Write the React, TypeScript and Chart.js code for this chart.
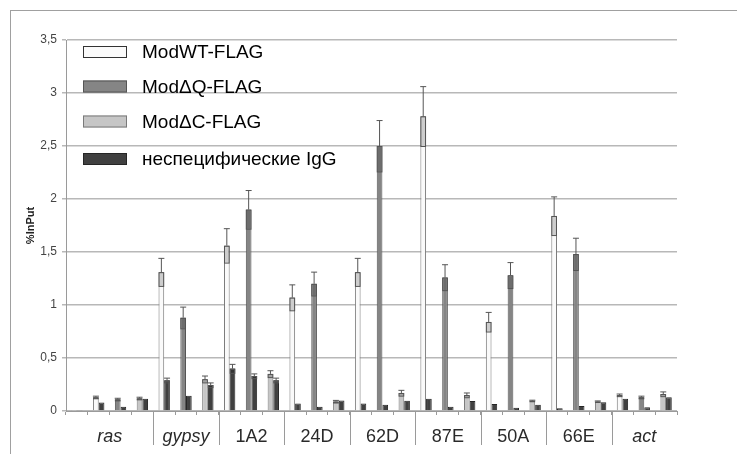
import React, { useEffect, useRef } from 'react';
import { Chart, registerables } from 'chart.js';

Chart.register(...registerables);

// ---------- data ----------
const categories = ['ras', 'gypsy', '1A2', '24D', '62D', '87E', '50A', '66E', 'act'];
const italicCategories = ['ras', 'gypsy', 'act'];
const seriesNames = ['ModWT-FLAG', 'ModΔQ-FLAG', 'ModΔC-FLAG', 'неспецифические IgG'];
const yTickValues = [0, 0.5, 1, 1.5, 2, 2.5, 3, 3.5];

// extra leading slot of "ras" (protein, IgG)
const rasBlankSlot = [0.004, 0.004];

const wtValues = [0.13, 1.31, 1.56, 1.07, 1.31, 2.78, 0.84, 1.84, 0.15];
const wtErr = [0.01, 0.13, 0.16, 0.12, 0.13, 0.28, 0.09, 0.18, 0.01];
const wtIgG = [0.08, 0.29, 0.4, 0.07, 0.07, 0.115, 0.066, 0.025, 0.115];
const wtIgGErr = [0, 0.02, 0.04, 0, 0, 0, 0, 0, 0];

const dqValues = [0.11, 0.88, 1.9, 1.2, 2.5, 1.26, 1.28, 1.48, 0.13];
const dqErr = [0.01, 0.1, 0.18, 0.11, 0.24, 0.12, 0.12, 0.15, 0.01];
const dqIgG = [0.04, 0.145, 0.33, 0.04, 0.06, 0.04, 0.03, 0.047, 0.035];
const dqIgGErr = [0, 0, 0.02, 0, 0, 0, 0, 0, 0];

const dcValues = [0.12, 0.3, 0.35, 0.09, 0.17, 0.15, 0.097, 0.09, 0.16];
const dcErr = [0.01, 0.03, 0.03, 0.01, 0.025, 0.02, 0.005, 0.005, 0.02];
const dcIgG = [0.115, 0.245, 0.29, 0.1, 0.097, 0.094, 0.06, 0.082, 0.13];
const dcIgGErr = [0, 0.02, 0.02, 0, 0, 0, 0, 0, 0];

// ---------- styles ----------
const FONT = '"Liberation Sans", Arial, sans-serif';
const fills = ['#fafafa', '#858585', '#c6c6c6', '#404040'];
const borders = ['#7a7a7a', '#555555', '#7a7a7a', '#252525'];

// ---------- slot layout ----------
type Slot = { cat: number; kind: number };
const slots: Slot[] = [];
categories.forEach((_, ci) => {
  if (ci === 0) slots.push({ cat: ci, kind: -1 });
  for (let k = 0; k < 3; k++) slots.push({ cat: ci, kind: k });
});

const proteinVals = [wtValues, dqValues, dcValues];
const proteinErrs = [wtErr, dqErr, dcErr];
const iggVals = [wtIgG, dqIgG, dcIgG];
const iggErrs = [wtIgGErr, dqIgGErr, dcIgGErr];

const labels = slots.map(() => '');

function proteinData(k: number) {
  return slots.map((s) =>
    s.kind === k ? proteinVals[k][s.cat] : s.kind === -1 && k === 0 ? rasBlankSlot[0] : null
  );
}
function proteinErrData(k: number) {
  return slots.map((s) => (s.kind === k ? proteinErrs[k][s.cat] : 0));
}
const iggData = slots.map((s) => (s.kind === -1 ? rasBlankSlot[1] : iggVals[s.kind][s.cat]));
const iggErrData = slots.map((s) => (s.kind === -1 ? 0 : iggErrs[s.kind][s.cat]));

const errorBarPlugin = {
  id: 'errorBars',
  afterDatasetsDraw(chart: any) {
    const ctx = chart.ctx;
    const yScale = chart.scales.y;
    chart.data.datasets.forEach((ds: any, i: number) => {
      const meta = chart.getDatasetMeta(i);
      const errs: number[] = ds.errors || [];
      meta.data.forEach((el: any, j: number) => {
        const v = ds.data[j];
        const e = errs[j];
        if (v == null || !e) return;
        const x = el.x;
        const w = el.width;
        const yv = yScale.getPixelForValue(v);
        const yp = yScale.getPixelForValue(v + e);
        const ym = yScale.getPixelForValue(Math.max(0, v - e));
        ctx.save();
        ctx.fillStyle = 'rgba(0,0,0,0.18)';
        ctx.fillRect(x - w / 2 + 1, yv, w - 2, ym - yv);
        ctx.strokeStyle = '#555';
        ctx.lineWidth = 1;
        ctx.strokeRect(x - w / 2 + 0.5, yv + 0.5, w - 1, ym - yv);
        ctx.beginPath();
        ctx.moveTo(x, yv);
        ctx.lineTo(x, yp);
        ctx.moveTo(x - 3, yp);
        ctx.lineTo(x + 3, yp);
        ctx.stroke();
        ctx.restore();
      });
    });
  },
};

const decorPlugin = {
  id: 'decor',
  afterDraw(chart: any) {
    const ctx = chart.ctx;
    const area = chart.chartArea;
    const xs = chart.scales.x;
    ctx.save();

    // category dividers & labels
    let idx = 0;
    const ranges: [number, number][] = [];
    categories.forEach((_, ci) => {
      const n = slots.filter((s) => s.cat === ci).length;
      ranges.push([idx, idx + n - 1]);
      idx += n;
    });
    ctx.strokeStyle = '#9a9a9a';
    ctx.lineWidth = 1;
    ranges.forEach(([a, b], ci) => {
      if (ci < ranges.length - 1) {
        const bx = Math.round((xs.getPixelForValue(b) + xs.getPixelForValue(b + 1)) / 2) + 0.5;
        ctx.beginPath();
        ctx.moveTo(bx, area.bottom);
        ctx.lineTo(bx, area.bottom + 34);
        ctx.stroke();
      }
      const cx = (xs.getPixelForValue(a) + xs.getPixelForValue(b)) / 2;
      const name = categories[ci];
      ctx.font = `${italicCategories.includes(name) ? 'italic ' : ''}18px ${FONT}`;
      ctx.fillStyle = '#2a2a2a';
      ctx.textAlign = 'center';
      ctx.textBaseline = 'middle';
      ctx.fillText(name, cx, area.bottom + 26);
    });

    // y axis title
    ctx.save();
    ctx.translate(31, (area.top + area.bottom) / 2);
    ctx.rotate(-Math.PI / 2);
    ctx.font = `bold 11px ${FONT}`;
    ctx.fillStyle = '#222';
    ctx.textAlign = 'center';
    ctx.textBaseline = 'middle';
    ctx.fillText('%InPut', 0, 0);
    ctx.restore();

    // legend
    const rowOffsets = [12, 46.5, 81.5, 119];
    seriesNames.forEach((name, i) => {
      const cy = area.top + rowOffsets[i];
      const bx = area.left + 17;
      ctx.fillStyle = fills[i];
      ctx.fillRect(bx, cy - 6, 44, 12);
      ctx.strokeStyle = i === 0 ? '#333' : borders[i];
      ctx.lineWidth = 1;
      ctx.strokeRect(bx + 0.5, cy - 6 + 0.5, 43, 11);
      ctx.font = `19px ${FONT}`;
      ctx.fillStyle = '#000';
      ctx.textAlign = 'left';
      ctx.textBaseline = 'middle';
      ctx.fillText(name, area.left + 76, cy + 1);
    });
    ctx.restore();
  },
};

export default function App() {
  const ref = useRef<HTMLCanvasElement | null>(null);

  useEffect(() => {
    if (!ref.current) return;
    const datasets: any[] = [0, 1, 2].map((k) => ({
      label: seriesNames[k],
      data: proteinData(k),
      errors: proteinErrData(k),
      backgroundColor: fills[k],
      borderColor: borders[k],
      borderWidth: 1,
      stack: 'protein',
    }));
    datasets.push({
      label: seriesNames[3],
      data: iggData,
      errors: iggErrData,
      backgroundColor: fills[3],
      borderColor: borders[3],
      borderWidth: 1,
      stack: 'igg',
    });

    const chart = new Chart(ref.current, {
      type: 'bar',
      data: { labels, datasets },
      plugins: [errorBarPlugin, decorPlugin],
      options: {
        animation: false,
        responsive: false,
        devicePixelRatio: 1,
        layout: { padding: { top: 40, right: 60, left: 0, bottom: 0 } },
        datasets: { bar: { categoryPercentage: 0.52, barPercentage: 1 } },
        plugins: { legend: { display: false }, tooltip: { enabled: false } },
        scales: {
          x: {
            stacked: true,
            offset: true,
            grid: {
              offset: true,
              drawOnChartArea: false,
              drawTicks: true,
              tickLength: 4,
              color: '#9a9a9a',
            },
            border: { color: '#9a9a9a' },
            ticks: { display: false },
            afterFit: (s: any) => {
              s.height = 43;
            },
          },
          y: {
            stacked: true,
            min: 0,
            max: 3.5,
            afterBuildTicks: (s: any) => {
              s.ticks = yTickValues.map((v) => ({ value: v }));
            },
            ticks: {
              callback: (v: any) => String(v).replace('.', ','),
              font: { family: FONT, size: 12 },
              color: '#444',
              padding: 5,
            },
            grid: { color: '#b8b8b8', lineWidth: 1.5, tickLength: 4 },
            border: { color: '#9a9a9a' },
            afterFit: (s: any) => {
              s.width = 66;
            },
          },
        },
      } as any,
    });
    return () => chart.destroy();
  }, []);

  return (
    <div style={{ position: 'fixed', left: 0, top: 0, width: 737, height: 454, background: '#fff' }}>
      <canvas ref={ref} width={737} height={454} style={{ display: 'block' }} />
      <div
        style={{
          position: 'absolute',
          left: 10,
          top: 10,
          right: -5,
          bottom: -5,
          borderTop: '1px solid #a0a0a0',
          borderLeft: '1px solid #a0a0a0',
          pointerEvents: 'none',
        }}
      />
    </div>
  );
}
